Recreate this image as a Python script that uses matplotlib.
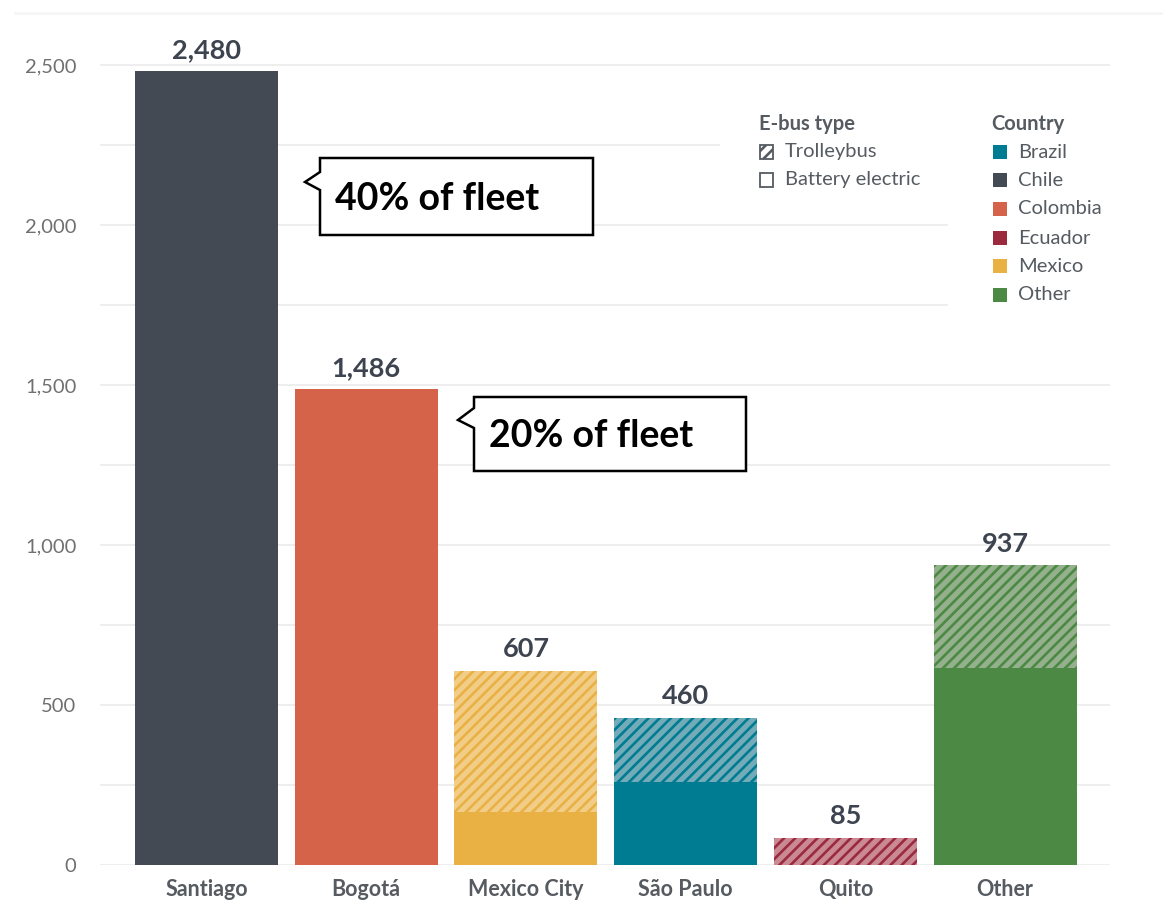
import matplotlib
matplotlib.use("Agg")
import matplotlib.pyplot as plt
from matplotlib.patches import Polygon, Rectangle
from matplotlib.lines import Line2D

# ---- data ----
cities = ["Santiago", "Bogotá", "Mexico City", "São Paulo", "Quito", "Other"]
city_country = ["Chile", "Colombia", "Mexico", "Brazil", "Ecuador", "Other"]
battery = [2480, 1486, 165, 260, 0, 615]
trolley = [0, 0, 442, 200, 85, 322]
yticks = [0, 500, 1000, 1500, 2000, 2500]
countries = ["Brazil", "Chile", "Colombia", "Ecuador", "Mexico", "Other"]
callouts = [("Santiago", "40% of fleet"), ("Bogotá", "20% of fleet")]

colors = {"Brazil": "#007c92", "Chile": "#434a53", "Colombia": "#d5634a",
          "Ecuador": "#9c2a3f", "Mexico": "#e9b144", "Other": "#4c8944"}
light = {"Brazil": "#74abb9", "Chile": "#8a9099", "Colombia": "#e8a193",
         "Ecuador": "#c98a93", "Mexico": "#f2cd88", "Other": "#94b08c"}

plt.rcParams["font.family"] = ["Lato", "DejaVu Sans"]
plt.rcParams["hatch.linewidth"] = 1.9

W, H = 1163, 900
fig = plt.figure(figsize=(W / 100, H / 100), dpi=100)
fig.patch.set_facecolor("white")

def fx(x):
    return x / W

def fy(y):
    return 1 - y / H

ax = fig.add_axes([fx(100), fy(865), fx(1110) - fx(100), fy(10) - fy(865)])
ax.set_xlim(-0.667, 5.657)
ax.set_ylim(0, (865 - 10) / 0.32)
for s in ax.spines.values():
    s.set_visible(False)

# grid
for g in range(0, 2501, 250):
    ax.axhline(g, color="#ebebeb", lw=1.2, zorder=0)

x = list(range(len(cities)))
bw = 0.895
for i, c in enumerate(cities):
    cc = city_country[i]
    if battery[i] > 0:
        ax.bar(i, battery[i], width=bw, color=colors[cc], linewidth=0, zorder=2)
    if trolley[i] > 0:
        ax.bar(i, trolley[i], bottom=battery[i], width=bw, color=light[cc],
               edgecolor=colors[cc], hatch="///", linewidth=0, zorder=2)
    tot = battery[i] + trolley[i]
    ax.text(i, tot + 30, f"{tot:,}", ha="center", va="bottom",
            fontsize=19.5, fontweight="bold", color="#3d4450", zorder=5)

ax.set_xticks(x)
ax.set_xticklabels(cities, fontsize=15.5, fontweight="bold", color="#555b61")
ax.set_yticks(yticks)
ax.set_yticklabels([f"{v:,}" for v in yticks], fontsize=14.5, color="#707070")
ax.tick_params(axis="both", length=0)
ax.tick_params(axis="x", pad=10)
ax.tick_params(axis="y", pad=17)

# white legend backgrounds (cover grid)
fig.patches.append(Rectangle((fx(720), fy(200)), fx(1112) - fx(720), fy(105) - fy(200),
                             transform=fig.transFigure, facecolor="white",
                             edgecolor="none", zorder=3))
fig.patches.append(Rectangle((fx(948), fy(318)), fx(1112) - fx(948), fy(105) - fy(318),
                             transform=fig.transFigure, facecolor="white",
                             edgecolor="none", zorder=3))

# top faint page line
fig.add_artist(Line2D([fx(15), 1], [fy(13), fy(13)], color="#f6f6f6", lw=2,
                      transform=fig.transFigure))

# legend: E-bus type
leg_col = "#555b61"
lfs = 14.5
fig.text(fx(759), fy(124), "E-bus type", fontsize=lfs, fontweight="bold",
         color=leg_col, va="center", ha="left", zorder=6)
sq = 13
for j, (lab, hatch) in enumerate([("Trolleybus", "///"), ("Battery electric", None)]):
    yy = [152, 180][j]
    r = Rectangle((fx(760), fy(yy + sq / 2)), fx(sq), fy(0) - fy(sq),
                  transform=fig.transFigure, facecolor="white",
                  edgecolor="#555b61", lw=1.3, hatch=hatch, zorder=6)
    fig.patches.append(r)
    fig.text(fx(785), fy(yy), lab, fontsize=lfs, color=leg_col,
             va="center", ha="left", zorder=6)

fig.text(fx(991), fy(124), "Country", fontsize=lfs, fontweight="bold",
         color=leg_col, va="center", ha="left", zorder=6)
for j, c in enumerate(countries):
    yy = [152, 180, 209, 238, 266, 295][j]
    r = Rectangle((fx(993), fy(yy + 7)), fx(14), fy(0) - fy(14),
                  transform=fig.transFigure, facecolor=colors[c],
                  edgecolor="none", zorder=6)
    fig.patches.append(r)
    fig.text(fx(1018), fy(yy), c, fontsize=lfs, color=leg_col,
             va="center", ha="left", zorder=6)

# callouts (pixel layout)
boxes = {"Santiago": (320, 593, 158, 235, 172, 190, 305, 182),
         "Bogotá": (474, 746, 397, 471, 408, 428, 458, 420)}
for city, txt in callouts:
    l, r_, t, b, nt, nb, tx, ty = boxes[city]
    pts = [(l, t), (r_, t), (r_, b), (l, b), (l, nb), (tx, ty), (l, nt)]
    poly = Polygon([(fx(px), fy(py)) for px, py in pts], closed=True,
                   transform=fig.transFigure, facecolor="white",
                   edgecolor="black", lw=1.8, zorder=7)
    fig.patches.append(poly)
    fig.text(fx(l + 15), fy((t + b) / 2 + 2), txt, fontsize=27, fontweight="bold",
             color="black", va="center", ha="left", zorder=8)

fig.savefig("out.png", dpi=100)
